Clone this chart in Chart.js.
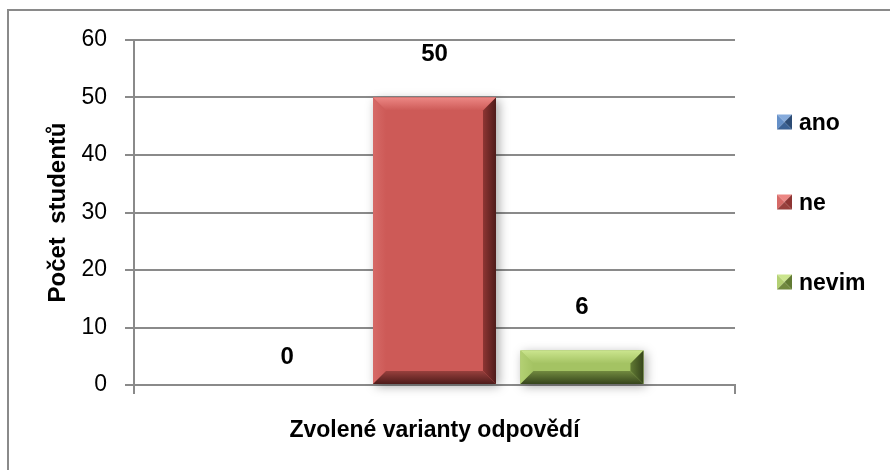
<!DOCTYPE html>
<html>
<head>
<meta charset="utf-8">
<script src="https://cdn.jsdelivr.net/npm/chart.js@4.4.1/dist/chart.umd.min.js"></script>
<style>
  html, body { margin: 0; padding: 0; background: #ffffff; }
  #wrap { width: 890px; height: 470px; position: relative; }
</style>
</head>
<body>
<div id="wrap"><canvas id="c" width="890" height="470"></canvas></div>
<script>
// ---- data ----
const categories = [''];
const seriesNames = ['ano', 'ne', 'nevim'];
const anoValues = [0];
const neValues = [50];
const nevimValues = [6];
const yMin = 0, yMax = 60, yStep = 10;
const yTitle = 'Počet  studentů';
const xTitle = 'Zvolené varianty odpovědí';

// ---- styles ----
const FONT = '"Liberation Sans", Arial, sans-serif';
const palettes = [
  { body: '#4F81BD', top: '#86ABDC', left: '#6590C8', right: '#2C4B74', bottom: '#3A6194', rightDark: '#1E3453' },
  { body: '#CD5A57', top: '#EC8784', left: '#D66A67', right: '#8E3533', bottom: '#98403D', rightDark: '#4E1B1A' },
  { body: '#A4C363', top: '#CBE58E', left: '#B3D073', right: '#617A33', bottom: '#71893F', rightDark: '#36451C' }
];

const framePlugin = {
  id: 'frame',
  beforeDraw(chart) {
    const ctx = chart.ctx;
    ctx.save();
    ctx.fillStyle = '#ffffff';
    ctx.fillRect(0, 0, chart.width, chart.height);
    ctx.strokeStyle = '#8a8a8a';
    ctx.lineWidth = 2;
    ctx.strokeRect(8, 10, 1000, 1000);
    ctx.restore();
  }
};

function barRect(el) {
  const p = el.getProps(['x', 'y', 'base', 'width'], true);
  const left = p.x - p.width / 2, right = p.x + p.width / 2;
  const top = Math.min(p.y, p.base), bottom = Math.max(p.y, p.base);
  return { left, right, top, bottom, w: right - left, h: bottom - top, x: p.x };
}

const shadowPlugin = {
  id: 'barShadow',
  beforeDatasetsDraw(chart) {
    const ctx = chart.ctx;
    chart.data.datasets.forEach((ds, i) => {
      const meta = chart.getDatasetMeta(i);
      meta.data.forEach(el => {
        const r = barRect(el);
        if (r.h < 1) return;
        ctx.save();
        ctx.shadowColor = 'rgba(0,0,0,0.35)';
        ctx.shadowBlur = 10;
        ctx.shadowOffsetX = 3;
        ctx.shadowOffsetY = 2;
        ctx.fillStyle = palettes[i].body;
        ctx.fillRect(r.left, r.top, r.w, r.h);
        ctx.restore();
      });
    });
  }
};

function poly(ctx, pts, fill) {
  ctx.beginPath();
  ctx.moveTo(pts[0][0], pts[0][1]);
  for (let k = 1; k < pts.length; k++) ctx.lineTo(pts[k][0], pts[k][1]);
  ctx.closePath();
  ctx.fillStyle = fill;
  ctx.fill();
}

function drawBevel(ctx, r, pal, size) {
  const b = Math.min(size, r.h / 2, r.w / 2);
  const L = r.left, R = r.right, T = r.top, B = r.bottom;
  // top
  const gT = ctx.createLinearGradient(0, T, 0, T + b);
  gT.addColorStop(0, pal.top); gT.addColorStop(1, pal.body);
  poly(ctx, [[L, T], [R, T], [R - b, T + b], [L + b, T + b]], gT);
  // left
  const gL = ctx.createLinearGradient(L, 0, L + b, 0);
  gL.addColorStop(0, pal.left); gL.addColorStop(1, pal.body);
  poly(ctx, [[L, T], [L + b, T + b], [L + b, B - b], [L, B]], gL);
  // right
  const gR = ctx.createLinearGradient(R - b, 0, R, 0);
  gR.addColorStop(0, pal.right); gR.addColorStop(1, pal.rightDark);
  poly(ctx, [[R, T], [R, B], [R - b, B - b], [R - b, T + b]], gR);
  // bottom
  const gB = ctx.createLinearGradient(0, B - b, 0, B);
  gB.addColorStop(0, pal.bottom); gB.addColorStop(1, pal.rightDark);
  poly(ctx, [[L, B], [L + b, B - b], [R - b, B - b], [R, B]], gB);
}

const bevelLabelPlugin = {
  id: 'bevelLabels',
  afterDatasetsDraw(chart) {
    const ctx = chart.ctx;
    chart.data.datasets.forEach((ds, i) => {
      const meta = chart.getDatasetMeta(i);
      meta.data.forEach((el, j) => {
        const r = barRect(el);
        if (r.h >= 1) {
          ctx.save();
          drawBevel(ctx, r, palettes[i], 13);
          ctx.restore();
        }
        const v = ds.data[j];
        ctx.save();
        ctx.font = 'bold 24px ' + FONT;
        ctx.fillStyle = '#000';
        ctx.textAlign = 'center';
        ctx.textBaseline = 'middle';
        const off = v > 0 ? 43.5 : 28;
        ctx.fillText(String(v), r.x, r.top - off);
        ctx.restore();
      });
    });
  }
};

const legendPlugin = {
  id: 'customLegend',
  afterDraw(chart) {
    const ctx = chart.ctx;
    const x0 = 777, y0 = 122, step = 80, box = 15;
    chart.data.datasets.forEach((ds, i) => {
      const cy = y0 + i * step;
      const pal = palettes[i];
      const L = x0, R = x0 + box, T = cy - box / 2, B = cy + box / 2;
      const cx = (L + R) / 2, cyy = (T + B) / 2;
      ctx.save();
      poly(ctx, [[L, T], [R, T], [cx, cyy]], pal.top);
      poly(ctx, [[L, T], [cx, cyy], [L, B]], pal.left);
      poly(ctx, [[R, T], [R, B], [cx, cyy]], pal.right);
      poly(ctx, [[L, B], [cx, cyy], [R, B]], pal.bottom);
      ctx.font = 'bold 23px ' + FONT;
      ctx.fillStyle = '#000';
      ctx.textAlign = 'left';
      ctx.textBaseline = 'alphabetic';
      ctx.fillText(ds.label, 799, B);
      ctx.restore();
    });
  }
};

const gridColor = '#8a8a8a';

new Chart(document.getElementById('c'), {
  type: 'bar',
  data: {
    labels: categories,
    datasets: [
      { label: seriesNames[0], data: anoValues, backgroundColor: palettes[0].body },
      { label: seriesNames[1], data: neValues, backgroundColor: palettes[1].body },
      { label: seriesNames[2], data: nevimValues, backgroundColor: palettes[2].body }
    ]
  },
  options: {
    responsive: false,
    animation: false,
    devicePixelRatio: 1,
    categoryPercentage: 0.736,
    barPercentage: 0.834,
    layout: { padding: { left: 0, top: 40, right: 155, bottom: 0 } },
    plugins: {
      legend: { display: false },
      tooltip: { enabled: false }
    },
    scales: {
      x: {
        afterFit(scale) { scale.height = 85; },
        grid: { drawOnChartArea: false, drawTicks: true, tickLength: 9, color: gridColor, lineWidth: 2 },
        border: { display: true, color: gridColor, width: 2 },
        ticks: { display: false },
        title: {
          display: true, text: xTitle, color: '#000',
          font: { family: FONT, size: 23, weight: 'bold' },
          padding: { top: 0, bottom: 26 }
        }
      },
      y: {
        min: yMin, max: yMax,
        afterFit(scale) { scale.width = 134; },
        ticks: { stepSize: yStep, color: '#000', padding: 18, font: { family: FONT, size: 23 } },
        grid: { color: gridColor, lineWidth: 2, drawTicks: true, tickLength: 9 },
        border: { display: true, color: gridColor, width: 2 },
        title: {
          display: true, text: yTitle, color: '#000',
          font: { family: FONT, size: 24, weight: 'bold' },
          padding: { top: 44, bottom: 0 }
        }
      }
    }
  },
  plugins: [framePlugin, shadowPlugin, bevelLabelPlugin, legendPlugin]
});
</script>
</body>
</html>
